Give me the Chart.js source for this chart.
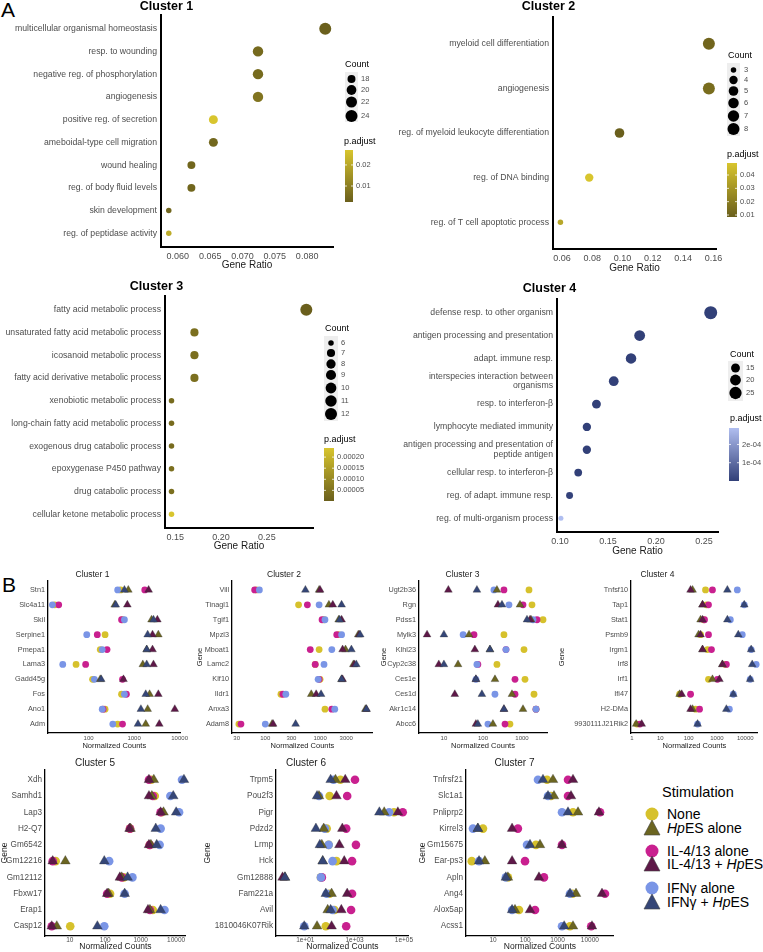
<!DOCTYPE html>
<html>
<head>
<meta charset="utf-8">
<script src="https://cdn.jsdelivr.net/npm/chart.js@4.4.1/dist/chart.umd.min.js"></script>
<style>
  body { margin: 0; background: #fff; }
  #fig { position: relative; width: 763px; height: 952px; overflow: hidden; font-family: "Liberation Sans", Arial, sans-serif; }
  #fig canvas { position: absolute; }
  .tag { position: absolute; font-size: 21px; line-height: 22px; color: #000; }
  .lg { position: absolute; font-size: 14px; line-height: 16px; color: #000; white-space: nowrap; }
  .lgm { position: absolute; }
</style>
</head>
<body>
<div id="fig">
  <div class="tag" style="left:1px;top:-1px">A</div>
  <div class="tag" style="left:2px;top:574px">B</div>

  <div class="lg" style="left:662px;top:784px;font-size:14.5px">Stimulation</div>
  <svg class="lgm" style="left:644px;top:806px" width="16" height="16"><circle cx="8" cy="8" r="6.5" fill="#d6c12c"/></svg>
  <div class="lg" style="left:667px;top:806px">None</div>
  <svg class="lgm" style="left:643px;top:819px" width="18" height="18"><polygon points="9,1 17,16 1,16" fill="#6b6521" stroke="#444" stroke-width="0.6"/></svg>
  <div class="lg" style="left:667px;top:820px"><i>Hp</i>ES alone</div>
  <svg class="lgm" style="left:644px;top:843px" width="16" height="16"><circle cx="8" cy="8" r="6.5" fill="#c9208f"/></svg>
  <div class="lg" style="left:667px;top:843px">IL-4/13 alone</div>
  <svg class="lgm" style="left:643px;top:855px" width="18" height="18"><polygon points="9,1 17,16 1,16" fill="#5e1848" stroke="#444" stroke-width="0.6"/></svg>
  <div class="lg" style="left:667px;top:856px">IL-4/13 + <i>Hp</i>ES</div>
  <svg class="lgm" style="left:644px;top:880px" width="16" height="16"><circle cx="8" cy="8" r="6.5" fill="#7a95e6"/></svg>
  <div class="lg" style="left:667px;top:880px">IFNγ alone</div>
  <svg class="lgm" style="left:643px;top:893px" width="18" height="18"><polygon points="9,1 17,16 1,16" fill="#354677" stroke="#444" stroke-width="0.6"/></svg>
  <div class="lg" style="left:667px;top:894px">IFNγ + <i>Hp</i>ES</div>
</div>
<script>
// ---------- panel A: enrichment dot plots ----------
const c1Terms = ['multicellular organismal homeostasis', 'resp. to wounding', 'negative reg. of phosphorylation',
  'angiogenesis', 'positive reg. of secretion', 'ameboidal-type cell migration', 'wound healing',
  'reg. of body fluid levels', 'skin development', 'reg. of peptidase activity'];
const c1Ratio = [0.0828, 0.0724, 0.0724, 0.0724, 0.0655, 0.0655, 0.0621, 0.0621, 0.0586, 0.0586];
const c1Count = [24, 21, 21, 21, 19, 19, 18, 18, 17, 17];
const c1Padj = [0.0024, 0.0050, 0.0052, 0.0075, 0.0271, 0.0045, 0.0040, 0.0040, 0.0040, 0.0210];

const c2Terms = ['myeloid cell differentiation', 'angiogenesis', 'reg. of myeloid leukocyte differentiation',
  'reg. of DNA binding', 'reg. of T cell apoptotic process'];
const c2Ratio = [0.157, 0.157, 0.098, 0.078, 0.059];
const c2Count = [8, 8, 5, 4, 3];
const c2Padj = [0.011, 0.014, 0.0085, 0.049, 0.037];

const c3Terms = ['fatty acid metabolic process', 'unsaturated fatty acid metabolic process', 'icosanoid metabolic process',
  'fatty acid derivative metabolic process', 'xenobiotic metabolic process', 'long-chain fatty acid metabolic process',
  'exogenous drug catabolic process', 'epoxygenase P450 pathway', 'drug catabolic process',
  'cellular ketone metabolic process'];
const c3Ratio = [0.293, 0.171, 0.171, 0.171, 0.146, 0.146, 0.146, 0.146, 0.146, 0.146];
const c3Count = [12, 7, 7, 7, 6, 6, 6, 6, 6, 6];
const c3Padj = [0.000002, 0.00004, 0.00004, 0.00004, 0.00003, 0.00003, 0.00003, 0.00004, 0.00004, 0.000241];

const c4Terms = ['defense resp. to other organism', 'antigen processing and presentation', 'adapt. immune resp.',
  'interspecies interaction between\norganisms', 'resp. to interferon-β', 'lymphocyte mediated immunity',
  'antigen processing and presentation of\npeptide antigen', 'cellular resp. to interferon-β',
  'reg. of adapt. immune resp.', 'reg. of multi-organism process'];
const c4Ratio = [0.257, 0.183, 0.174, 0.156, 0.138, 0.128, 0.128, 0.119, 0.110, 0.101];
const c4Count = [28, 20, 19, 17, 15, 14, 14, 13, 12, 11];
const c4Padj = [2e-12, 5e-9, 1e-8, 3e-8, 4e-9, 2e-7, 6e-8, 3e-8, 4e-6, 0.00029];

// ---------- panel B: normalized counts per gene ----------
const b1Genes = ['Stn1', 'Slc4a11', 'Skil', 'Serpine1', 'Pmepa1', 'Lama3', 'Gadd45g', 'Fos', 'Ano1', 'Adm'];
const b1None = [504, 18, 556, 230, 180, 53, 122, 529, 230, 435];
const b1Hp = [745, 375, 2415, 3405, 1892, 1553, 180, 2190, 1985, 1800];
const b1Il4 = [1714, 22, 529, 155, 254, 86, 556, 676, 208, 556];
const b1Il4Hp = [2084, 710, 3243, 2537, 2537, 2665, 583, 3405, 7830, 3575];
const b1Ifng = [435, 16, 612, 91, 199, 27, 134, 612, 199, 340];
const b1IfngHp = [612, 394, 2665, 1985, 1892, 1892, 189, 1800, 1409, 1216];

const b2Genes = ['Vill', 'Tinagl1', 'Tgif1', 'Mpzl3', 'Mboat1', 'Lamc2', 'Klf10', 'Ildr1', 'Anxa3', 'Adam8'];
const b2None = [69, 405, 1179, 2183, 960, 815, 1000, 193, 1228, 33];
const b2Hp = [960, 1449, 2183, 4970, 2913, 4048, 2470, 690, 6700, 133];
const b2Il4 = [64, 586, 1086, 2014, 662, 815, 960, 210, 1637, 36];
const b2Il4Hp = [1000, 1706, 2470, 5180, 2576, 4217, 2576, 849, 7000, 139];
const b2Ifng = [78, 960, 1228, 2470, 1637, 1179, 921, 237, 1852, 100];
const b2IfngHp = [540, 2470, 2275, 5395, 3727, 4580, 2470, 1042, 7000, 358];

const b3Genes = ['Ugt2b36', 'Rgn', 'Pdss1', 'Mylk3', 'Klhl23', 'Cyp2c38', 'Ces1e', 'Ces1d', 'Akr1c14', 'Abcc6'];
const b3None = [1510, 1804, 3455, 345, 1125, 228, 1194, 2030, 2285, 492];
const b3Hp = [228, 889, 1702, 44, 151, 23, 203, 554, 1061, 180];
const b3Il4 = [345, 1061, 2425, 59, 389, 74, 662, 662, 2285, 367];
const b3Il4Hp = [13, 242, 1603, 3.7, 62, 7.4, 66, 19, 345, 66];
const b3Ifng = [191, 464, 1914, 31, 389, 70, 66, 203, 2285, 134];
const b3IfngHp = [70, 307, 1343, 10, 151, 10, 66, 94, 345, 74];

const b4Genes = ['Tnfsf10', 'Tap1', 'Stat1', 'Psmb9', 'Irgm1', 'Irf8', 'Irf1', 'Ifi47', 'H2-DMa', '9930111J21Rik2'];
const b4None = [395, 428, 337, 264, 464, 1987, 503, 48, 176, 1.5];
const b4Hp = [138, 310, 264, 224, 310, 1560, 695, 48, 138, 1.4];
const b4Il4 = [695, 503, 364, 503, 641, 2155, 1042, 117, 243, 1.9];
const b4Il4Hp = [117, 310, 310, 264, 310, 1560, 1224, 57, 117, 2.2];
const b4Ifng = [5240, 9220, 2976, 7850, 16200, 24300, 14960, 3790, 2748, 207];
const b4IfngHp = [2336, 9220, 2336, 5680, 16200, 17600, 14960, 3790, 2155, 207];

const b5Genes = ['Xdh', 'Samhd1', 'Lap3', 'H2-Q7', 'Gm6542', 'Gm12216', 'Gm12112', 'Fbxw17', 'Erap1', 'Casp12'];
const b5None = [2000, 2495, 3900, 500, 1800, 4.0, 332, 137, 2198, 10.3];
const b5Hp = [2345, 2063, 4400, 515, 1940, 7.5, 292, 125, 1820, 4.3];
const b5Il4 = [1710, 2198, 3650, 500, 1800, 3.3, 292, 113, 1820, 3.1];
const b5Il4Hp = [1710, 1710, 3650, 484, 1710, 3.3, 258, 113, 1604, 3.1];
const b5Ifng = [14600, 6860, 12080, 3650, 3420, 129, 585, 353, 4690, 94];
const b5IfngHp = [16600, 8280, 10000, 2660, 2830, 94, 427, 353, 3650, 60];

const b6Genes = ['Trpm5', 'Pou2f3', 'Pigr', 'Pdzd2', 'Lrmp', 'Hck', 'Gm12888', 'Fam221a', 'Avil', '1810046K07Rik'];
const b6None = [265, 97, 39500, 74, 89, 184, 43, 97, 153, 68];
const b6Hp = [168, 36, 15900, 56, 47, 51, 1.5, 117, 81, 30];
const b6Il4 = [1037, 501, 89700, 457, 1135, 789, 47, 789, 721, 457];
const b6Il4Hp = [418, 184, 56900, 318, 242, 381, 1.2, 501, 290, 117];
const b6Ifng = [140, 36, 25100, 62, 89, 128, 43, 74, 128, 9.1];
const b6IfngHp = [107, 30, 10100, 27, 39, 51, 1.5, 68, 107, 9.1];

const b7Genes = ['Tnfrsf21', 'Slc1a1', 'Pnliprp2', 'Kirrel3', 'Gm15675', 'Ear-ps3', 'Apln', 'Ang4', 'Alox5ap', 'Acss1'];
const b7None = [470, 625, 3000, 4.9, 214, 2.2, 29, 2900, 64, 2420];
const b7Hp = [721, 774, 4290, 3.4, 285, 5.6, 29, 3720, 48, 3000];
const b7Il4 = [2100, 2100, 20600, 59, 1368, 98, 379, 29300, 200, 11000];
const b7Il4Hp = [3000, 2600, 19100, 39, 1368, 39, 265, 23700, 140, 11600];
const b7Ifng = [247, 505, 1368, 2.4, 113, 3.7, 25, 2420, 39, 1368];
const b7IfngHp = [353, 505, 2100, 3.4, 140, 3.7, 25, 2420, 39, 1600];

// colours
const yellow = '#d6c12c', olive = '#6b6521', magenta = '#c9208f', purple = '#5e1848', blue = '#7a95e6', navy = '#354677';
const oliveLow = [106, 95, 28], oliveHigh = [216, 197, 46];
const navyLow = [50, 64, 120], navyHigh = [176, 190, 240];

Chart.defaults.font.family = '"Liberation Sans", Arial, sans-serif';
Chart.defaults.color = '#4d4d4d';
Chart.defaults.animation = false;
Chart.defaults.responsive = false;
Chart.defaults.devicePixelRatio = 1;
Chart.defaults.events = [];
Chart.defaults.plugins.legend.display = false;
Chart.defaults.plugins.tooltip.enabled = false;

const fig = document.getElementById('fig');
function addCanvas(id, r) {
  const c = document.createElement('canvas');
  c.id = id;
  c.width = r.w;
  c.height = r.h;
  c.style.left = r.x + 'px';
  c.style.top = r.y + 'px';
  fig.appendChild(c);
  return c;
}

function mix(a, b, t) {
  t = Math.max(0, Math.min(1, t));
  return 'rgb(' + a.map((v, i) => Math.round(v + (b[i] - v) * t)).join(',') + ')';
}

// size + colour keys for panel A (looked up by canvas id)
const keys = {};
const keyPlugin = {
  id: 'enrichKey',
  afterDraw(chart) {
    const k = keys[chart.canvas.id];
    if (!k) return;
    const ctx = chart.ctx, ox = k.rect.x, oy = k.rect.y;
    ctx.save();
    ctx.textBaseline = 'middle';
    ctx.textAlign = 'left';
    ctx.fillStyle = '#000';
    ctx.font = '9px "Liberation Sans", Arial';
    ctx.fillText('Count', k.count[0] - ox, k.count[1] - oy);
    ctx.fillStyle = '#eeeeee';
    ctx.fillRect(k.bg[0] - ox, k.bg[1] - oy, k.bg[2], k.bg[3]);
    ctx.font = '7.5px "Liberation Sans", Arial';
    k.kc.forEach((c, i) => {
      ctx.fillStyle = '#000';
      ctx.beginPath();
      ctx.arc(k.kx - ox, k.ky[i] - oy, k.rad(c), 0, Math.PI * 2);
      ctx.fill();
      ctx.fillStyle = '#4d4d4d';
      ctx.fillText(String(c), k.lx - ox, k.ky[i] - oy);
    });
    ctx.fillStyle = '#000';
    ctx.font = '9px "Liberation Sans", Arial';
    ctx.fillText('p.adjust', k.ptitle[0] - ox, k.ptitle[1] - oy);
    const [bx, by, bw, bh] = k.bar;
    const g = ctx.createLinearGradient(0, by - oy, 0, by + bh - oy);
    g.addColorStop(0, mix(k.low, k.high, 1));
    g.addColorStop(1, mix(k.low, k.high, 0));
    ctx.fillStyle = g;
    ctx.fillRect(bx - ox, by - oy, bw, bh);
    ctx.font = '7.5px "Liberation Sans", Arial';
    k.pt.forEach((v, i) => {
      const y = by + (k.pmax - v) / (k.pmax - k.pmin) * bh - oy;
      ctx.strokeStyle = '#fff';
      ctx.lineWidth = 0.8;
      ctx.beginPath();
      ctx.moveTo(bx - ox, y); ctx.lineTo(bx - ox + 2, y);
      ctx.moveTo(bx + bw - ox - 2, y); ctx.lineTo(bx + bw - ox, y);
      ctx.stroke();
      ctx.fillStyle = '#4d4d4d';
      ctx.fillText(k.ptl[i], bx + bw + 3 - ox, y);
    });
    ctx.restore();
  }
};
Chart.register(keyPlugin);

function enrichChart(id, title, terms, ratio, count, padj, s) {
  const r = s.rect, p = s.plot;
  const cv = addCanvas(id, r);
  const pmin = Math.min(...padj), pmax = Math.max(...padj);
  const rad = c => (s.dmin + (s.dmax - s.dmin) * Math.sqrt(Math.max(0, (c - s.cmin) / (s.cmax - s.cmin)))) / 2;
  const fs = 12.5;
  const padTop = s.yc - r.y - fs / 2;
  keys[id] = Object.assign({ rect: r, rad, pmin, pmax, low: s.low, high: s.high }, s.key);
  new Chart(cv, {
    type: 'bubble',
    data: {
      datasets: [{
        data: ratio.map((v, i) => ({ x: v, y: i, r: rad(count[i]) })),
        backgroundColor: padj.map(v => mix(s.low, s.high, (v - pmin) / (pmax - pmin))),
        borderWidth: 0,
        clip: false
      }]
    },
    options: {
      layout: { padding: { top: 0, left: 0, bottom: 0, right: r.x + r.w - p.R } },
      plugins: {
        title: {
          display: true, text: title, color: '#000',
          font: { size: fs, weight: 'bold', lineHeight: 1 },
          padding: { top: padTop, bottom: p.T - r.y - fs - padTop }
        }
      },
      scales: {
        x: {
          type: 'linear', min: s.xmin, max: s.xmax, bounds: 'data',
          grid: { display: false, drawTicks: false },
          border: { display: true, color: '#000', width: 2 },
          ticks: { font: { size: 9 }, padding: 4, autoSkip: false, maxRotation: 0,
                   callback: v => v.toFixed(s.dec) },
          afterBuildTicks: ax => { ax.ticks = s.xticks.map(v => ({ value: v })); },
          afterFit: ax => { ax.height = r.y + r.h - p.B; },
          title: { display: true, text: 'Gene Ratio', color: '#1a1a1a', font: { size: 10 }, padding: { top: 0, bottom: 1 } }
        },
        y: {
          type: 'linear', reverse: true, min: -0.6, max: terms.length - 0.4, bounds: 'data',
          grid: { display: false, drawTicks: false },
          border: { display: true, color: '#000', width: 2 },
          ticks: { font: { size: 8.7, lineHeight: 1.1 }, padding: 4, autoSkip: false,
                   callback: v => terms[v].split('\n') },
          afterBuildTicks: ax => { ax.ticks = terms.map((t, i) => ({ value: i })); },
          afterFit: ax => { ax.width = p.L - r.x; }
        }
      }
    }
  });
}

function dotChart(id, title, genes, series, s) {
  const r = s.rect, p = s.plot;
  const cv = addCanvas(id, r);
  const fs = s.big ? 10 : 8.5;
  const padTop = s.yc - r.y - fs / 2;
  const cr = s.big ? 4.3 : 3.4, tr = s.big ? 5.6 : 4.5;
  const mk = (vals, color, tri) => ({
    data: vals.map((v, i) => ({ x: v, y: i })),
    backgroundColor: color,
    borderColor: tri ? 'rgba(50,50,50,0.55)' : color,
    borderWidth: tri ? 0.6 : 0,
    pointStyle: tri ? 'triangle' : 'circle',
    pointRadius: tri ? tr : cr,
    clip: false
  });
  // triangles first so they are drawn on top
  const datasets = [
    mk(series.ifngHp, navy, true), mk(series.il4Hp, purple, true), mk(series.hp, olive, true),
    mk(series.ifng, blue, false), mk(series.il4, magenta, false), mk(series.none, yellow, false)
  ];
  const lf = s.big ? 8.5 : 7.5;
  new Chart(cv, {
    type: 'scatter',
    data: { datasets },
    options: {
      layout: { padding: { top: 0, left: 0, bottom: 0, right: r.x + r.w - p.R } },
      plugins: {
        title: {
          display: true, text: title, color: '#1a1a1a',
          font: { size: fs, weight: 'normal', lineHeight: 1 },
          padding: { top: padTop, bottom: p.T - r.y - fs - padTop }
        }
      },
      scales: {
        x: {
          type: 'logarithmic', min: s.xmin, max: s.xmax, bounds: 'data',
          grid: { display: false, drawTicks: false },
          border: { display: true, color: '#000', width: 1.3 },
          ticks: { font: { size: s.big ? 6.5 : 6 }, padding: s.big ? 0.5 : 2, autoSkip: false, maxRotation: 0,
                   callback: (v, i) => s.tl[i] },
          afterBuildTicks: ax => { ax.ticks = s.tv.map(v => ({ value: v })); },
          afterFit: ax => { ax.height = r.y + r.h - p.B; },
          title: { display: true, text: 'Normalized Counts', color: '#1a1a1a', font: { size: lf }, padding: { top: 0, bottom: s.big ? 0 : 1.5 } }
        },
        y: {
          type: 'linear', reverse: true, min: -0.6, max: genes.length - 0.4, bounds: 'data',
          grid: { display: false, drawTicks: false },
          border: { display: true, color: '#000', width: 1.3 },
          ticks: { font: { size: s.big ? 8.2 : 7.3 }, padding: 3, autoSkip: false, callback: v => genes[v] },
          afterBuildTicks: ax => { ax.ticks = genes.map((g, i) => ({ value: i })); },
          afterFit: ax => { ax.width = p.L - r.x; },
          title: { display: s.gx !== undefined, text: 'Gene', color: '#1a1a1a', font: { size: lf },
                   padding: { top: s.gx !== undefined ? Math.max(0, s.gx - r.x - lf * 0.6) : 0, bottom: 0 } }
        }
      }
    }
  });
}

// ---------- panel A ----------
enrichChart('a1', 'Cluster 1', c1Terms, c1Ratio, c1Count, c1Padj, {
  rect: { x: 0, y: 0, w: 381, h: 272 }, plot: { L: 161, R: 333, T: 15, B: 247 }, yc: 7,
  xmin: 0.0574, xmax: 0.0840, xticks: [0.060, 0.065, 0.070, 0.075, 0.080], dec: 3,
  cmin: 17, cmax: 24, dmin: 5.5, dmax: 12, low: oliveLow, high: oliveHigh,
  key: { count: [345, 65], bg: [345, 72, 13, 50], kx: 351.5, ky: [79, 90, 102, 116], kc: [18, 20, 22, 24], lx: 361,
         ptitle: [344, 142], bar: [345, 150, 8, 52], pt: [0.01, 0.02], ptl: ['0.01', '0.02'] }
});
enrichChart('a2', 'Cluster 2', c2Terms, c2Ratio, c2Count, c2Padj, {
  rect: { x: 381, y: 0, w: 382, h: 275 }, plot: { L: 553, R: 716, T: 17, B: 249 }, yc: 7,
  xmin: 0.0541, xmax: 0.1617, xticks: [0.06, 0.08, 0.10, 0.12, 0.14, 0.16], dec: 2,
  cmin: 3, cmax: 8, dmin: 5.5, dmax: 12, low: oliveLow, high: oliveHigh,
  key: { count: [728, 56], bg: [727, 63, 13, 73], kx: 733.5, ky: [70, 80, 91, 103, 116, 129], kc: [3, 4, 5, 6, 7, 8], lx: 744,
         ptitle: [727, 155], bar: [727, 163, 10, 54], pt: [0.01, 0.02, 0.03, 0.04], ptl: ['0.01', '0.02', '0.03', '0.04'] }
});
enrichChart('a3', 'Cluster 3', c3Terms, c3Ratio, c3Count, c3Padj, {
  rect: { x: 0, y: 278, w: 381, h: 275 }, plot: { L: 165, R: 313, T: 296, B: 528 }, yc: 287,
  xmin: 0.1389, xmax: 0.3003, xticks: [0.15, 0.20, 0.25], dec: 2,
  cmin: 6, cmax: 12, dmin: 5.5, dmax: 12, low: oliveLow, high: oliveHigh,
  key: { count: [325, 329], bg: [324, 336, 14, 85], kx: 331, ky: [343, 353, 364, 375, 388, 401, 414], kc: [6, 7, 8, 9, 10, 11, 12], lx: 341,
         ptitle: [324, 440], bar: [324, 448, 10, 53], pt: [0.00005, 0.0001, 0.00015, 0.0002], ptl: ['0.00005', '0.00010', '0.00015', '0.00020'] }
});
enrichChart('a4', 'Cluster 4', c4Terms, c4Ratio, c4Count, c4Padj, {
  rect: { x: 381, y: 278, w: 382, h: 280 }, plot: { L: 557, R: 718, T: 299, B: 532 }, yc: 289,
  xmin: 0.0969, xmax: 0.2646, xticks: [0.10, 0.15, 0.20, 0.25], dec: 2,
  cmin: 11, cmax: 28, dmin: 5, dmax: 13, low: navyLow, high: navyHigh,
  key: { count: [730, 355], bg: [728, 361, 15, 40], kx: 735.5, ky: [368, 380, 393], kc: [15, 20, 25], lx: 746,
         ptitle: [730, 419], bar: [729, 428, 10, 53], pt: [0.0001, 0.0002], ptl: ['1e-04', '2e-04'] }
});

// ---------- panel B ----------
dotChart('b1', 'Cluster 1', b1Genes,
  { none: b1None, hp: b1Hp, il4: b1Il4, il4Hp: b1Il4Hp, ifng: b1Ifng, ifngHp: b1IfngHp }, {
  rect: { x: 0, y: 569, w: 190, h: 183 }, plot: { L: 48, R: 185, T: 581, B: 733 }, yc: 575,
  xmin: 12.8, xmax: 10500, tv: [100, 1000, 10000], tl: ['100', '1000', '10000'] });
dotChart('b2', 'Cluster 2', b2Genes,
  { none: b2None, hp: b2Hp, il4: b2Il4, il4Hp: b2Il4Hp, ifng: b2Ifng, ifngHp: b2IfngHp }, {
  rect: { x: 192, y: 569, w: 186, h: 183 }, plot: { L: 232, R: 376, T: 581, B: 733 }, yc: 575, gx: 200,
  xmin: 24.7, xmax: 9200, tv: [30, 100, 300, 1000, 3000], tl: ['30', '100', '300', '1000', '3000'] });
dotChart('b3', 'Cluster 3', b3Genes,
  { none: b3None, hp: b3Hp, il4: b3Il4, il4Hp: b3Il4Hp, ifng: b3Ifng, ifngHp: b3IfngHp }, {
  rect: { x: 378, y: 569, w: 179, h: 183 }, plot: { L: 419, R: 547, T: 581, B: 733 }, yc: 575, gx: 384,
  xmin: 2.3, xmax: 4370, tv: [10, 100, 1000], tl: ['10', '100', '1000'] });
dotChart('b4', 'Cluster 4', b4Genes,
  { none: b4None, hp: b4Hp, il4: b4Il4, il4Hp: b4Il4Hp, ifng: b4Ifng, ifngHp: b4IfngHp }, {
  rect: { x: 557, y: 569, w: 206, h: 183 }, plot: { L: 631, R: 758, T: 581, B: 733 }, yc: 575, gx: 562,
  xmin: 0.92, xmax: 28000, tv: [1, 10, 100, 1000, 10000], tl: ['1', '10', '100', '1000', '10000'] });
dotChart('b5', 'Cluster 5', b5Genes,
  { none: b5None, hp: b5Hp, il4: b5Il4, il4Hp: b5Il4Hp, ifng: b5Ifng, ifngHp: b5IfngHp }, {
  rect: { x: 0, y: 756, w: 192, h: 196 }, plot: { L: 45, R: 190, T: 770, B: 936 }, yc: 763, gx: 5, big: true,
  xmin: 2.0, xmax: 18700, tv: [10, 100, 1000, 10000], tl: ['10', '100', '1000', '10000'] });
dotChart('b6', 'Cluster 6', b6Genes,
  { none: b6None, hp: b6Hp, il4: b6Il4, il4Hp: b6Il4Hp, ifng: b6Ifng, ifngHp: b6IfngHp }, {
  rect: { x: 200, y: 756, w: 215, h: 196 }, plot: { L: 276, R: 412, T: 770, B: 936 }, yc: 763, gx: 208, big: true,
  xmin: 0.65, xmax: 158000, tv: [10, 1000, 100000], tl: ['1e+01', '1e+03', '1e+05'] });
dotChart('b7', 'Cluster 7', b7Genes,
  { none: b7None, hp: b7Hp, il4: b7Il4, il4Hp: b7Il4Hp, ifng: b7Ifng, ifngHp: b7IfngHp }, {
  rect: { x: 415, y: 756, w: 205, h: 196 }, plot: { L: 466, R: 614, T: 770, B: 936 }, yc: 763, gx: 423, big: true,
  xmin: 1.46, xmax: 55000, tv: [10, 100, 1000, 10000], tl: ['10', '100', '1000', '10000'] });
</script>
</body>
</html>
